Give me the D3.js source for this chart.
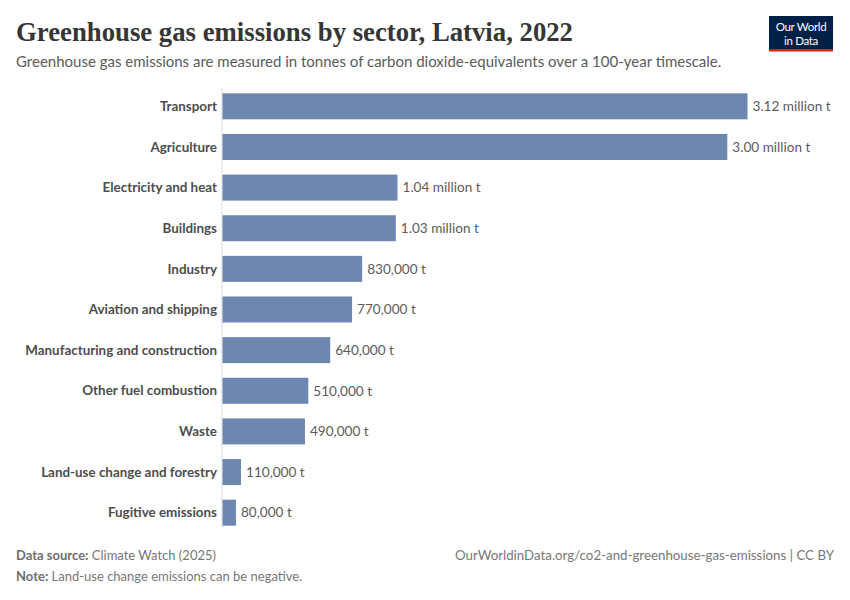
<!DOCTYPE html>
<html><head><meta charset="utf-8">
<script src="https://cdn.jsdelivr.net/npm/d3@7"></script>
<style>body{margin:0;background:#fff}svg{display:block;font-family:Lato,sans-serif}</style>
</head><body>
<svg id="c" width="850" height="600"></svg>
<script>
const sectors = ["Transport","Agriculture","Electricity and heat","Buildings","Industry","Aviation and shipping","Manufacturing and construction","Other fuel combustion","Waste","Land-use change and forestry","Fugitive emissions"];
const emissions = [3120000,3000000,1040000,1030000,830000,770000,640000,510000,490000,110000,80000];
const valueLabels = ["3.12 million t","3.00 million t","1.04 million t","1.03 million t","830,000 t","770,000 t","640,000 t","510,000 t","490,000 t","110,000 t","80,000 t"];

const svg = d3.select("#c");
svg.append("text").attr("x",16).attr("y",41).style("font-family","'Liberation Serif',serif").attr("font-weight","bold")
  .attr("font-size",27).attr("fill","#363636").attr("textLength",557).attr("lengthAdjust","spacingAndGlyphs")
  .text("Greenhouse gas emissions by sector, Latvia, 2022");
svg.append("text").attr("x",16).attr("y",67).attr("font-size",15).attr("fill","#5b5b5b")
  .text("Greenhouse gas emissions are measured in tonnes of carbon dioxide-equivalents over a 100-year timescale.");

const logo = svg.append("g");
logo.append("rect").attr("x",769).attr("y",16).attr("width",64).attr("height",35).attr("fill","#002147");
logo.append("rect").attr("x",769).attr("y",49).attr("width",64).attr("height",2.5).attr("fill","#ce261e");
logo.append("text").attr("x",801).attr("y",31).attr("text-anchor","middle").attr("fill","#fff").attr("font-size",11.5).attr("letter-spacing",-0.3).text("Our World");
logo.append("text").attr("x",801).attr("y",45).attr("text-anchor","middle").attr("fill","#fff").attr("font-size",11.5).attr("letter-spacing",-0.3).text("in Data");

const x = d3.scaleLinear().domain([0,3120000]).range([222.5,747.5]);
const y = d3.scaleBand().domain(sectors).range([86,533]).paddingInner(0.36).paddingOuter(0.18);

svg.append("line").attr("x1",222).attr("x2",222).attr("y1",88).attr("y2",528).attr("stroke","#dadada").attr("stroke-width",1);

const rows = svg.append("g").selectAll("g").data(sectors).join("g");
rows.append("rect").attr("x",x(0)).attr("y",d=>y(d)).attr("height",y.bandwidth())
  .attr("width",(d,i)=>x(emissions[i])-x(0)).attr("fill","#6d87b1");
rows.append("text").attr("x",217).attr("y",d=>y(d)+y.bandwidth()/2).attr("dy","0.35em").attr("text-anchor","end")
  .attr("font-size",13.4).attr("font-weight","bold").attr("fill","#4d4d4d").text(d=>d);
rows.append("text").attr("x",(d,i)=>x(emissions[i])+5).attr("y",d=>y(d)+y.bandwidth()/2).attr("dy","0.35em")
  .attr("font-size",13.6).attr("fill","#5b5b5b").text((d,i)=>valueLabels[i]);

const f1 = svg.append("text").attr("x",16).attr("y",560).attr("font-size",13).attr("fill","#777");
f1.append("tspan").attr("font-weight","bold").attr("fill","#6e6e6e").text("Data source:");
f1.append("tspan").text(" Climate Watch (2025)");
const f2 = svg.append("text").attr("x",16).attr("y",581).attr("font-size",13).attr("fill","#777");
f2.append("tspan").attr("font-weight","bold").attr("fill","#6e6e6e").text("Note:");
f2.append("tspan").text(" Land-use change emissions can be negative.");
svg.append("text").attr("x",834).attr("y",560).attr("text-anchor","end").attr("font-size",13.3).attr("fill","#777")
  .text("OurWorldinData.org/co2-and-greenhouse-gas-emissions | CC BY");
</script>
</body></html>
